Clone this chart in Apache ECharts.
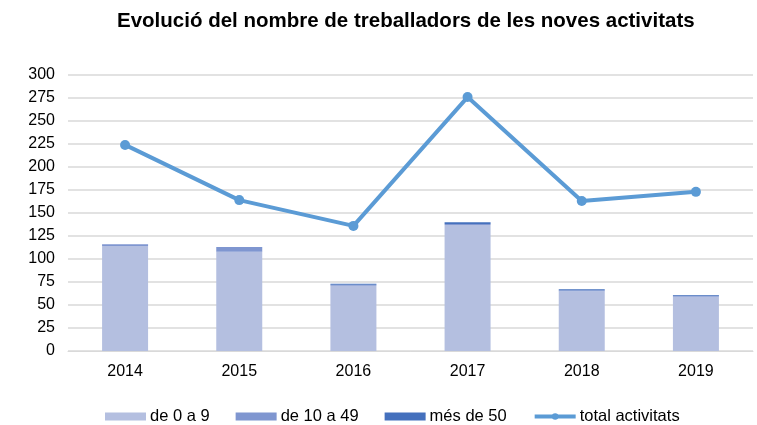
<!DOCTYPE html>
<html>
<head>
<meta charset="utf-8">
<script src="https://cdn.jsdelivr.net/npm/echarts@6/dist/echarts.min.js"></script>
<style>
  html, body { margin: 0; padding: 0; background: #fff; }
  #chart { width: 757px; height: 425px; }
</style>
</head>
<body>
<div id="chart"></div>
<script>
// dades
var anys = ['2014', '2015', '2016', '2017', '2018', '2019'];
var de0a9 = [114, 108, 71, 137, 65, 59];
var de10a49 = [2, 5, 1, 1, 1, 1];
var mesDe50 = [0, 0, 1, 2, 1, 1];
var totalActivitats = [224, 164, 136, 276, 163, 173];

var chart = echarts.init(document.getElementById('chart'));
var font = 'Liberation Sans, Arial, sans-serif';

chart.setOption({
  animation: false,
  textStyle: { fontFamily: font },
  title: {
    text: 'Evolució del nombre de treballadors de les noves activitats',
    left: 112,
    top: 6,
    textStyle: { fontSize: 20.5, fontWeight: 'bold', color: '#000', fontFamily: font }
  },
  legend: {
    top: 403,
    left: 100,
    itemGap: 26,
    itemWidth: 41,
    itemHeight: 8,
    textStyle: { fontSize: 16.5, color: '#000', fontFamily: font, padding: [0, 0, 0, -1] },
    data: [
      { name: 'de 0 a 9', icon: 'rect' },
      { name: 'de 10 a 49', icon: 'rect' },
      { name: 'més de 50', icon: 'rect' },
      { name: 'total activitats', lineStyle: { width: 4 } }
    ]
  },
  grid: { left: 68, right: 4, top: 75, bottom: 74 },
  xAxis: {
    type: 'category',
    data: anys,
    axisTick: { show: false },
    axisLine: { lineStyle: { color: '#d9d9d9' } },
    axisLabel: { color: '#000', fontSize: 16, margin: 13 }
  },
  yAxis: {
    type: 'value',
    min: 0,
    max: 300,
    interval: 25,
    axisLabel: { color: '#000', fontSize: 16, margin: 13 },
    splitLine: { lineStyle: { color: '#d9d9d9', width: 1.5 } }
  },
  series: [
    {
      name: 'de 0 a 9', type: 'bar', stack: 'treb', barWidth: 46,
      itemStyle: { color: '#b4bfe0' }, data: de0a9
    },
    {
      name: 'de 10 a 49', type: 'bar', stack: 'treb',
      itemStyle: { color: '#7f96d0' }, data: de10a49
    },
    {
      name: 'més de 50', type: 'bar', stack: 'treb',
      itemStyle: { color: '#4470bd' }, data: mesDe50
    },
    {
      name: 'total activitats', type: 'line',
      symbol: 'circle', symbolSize: 10,
      lineStyle: { color: '#5b9bd5', width: 4 },
      itemStyle: { color: '#5b9bd5' },
      data: totalActivitats
    }
  ]
});
</script>
</body>
</html>
